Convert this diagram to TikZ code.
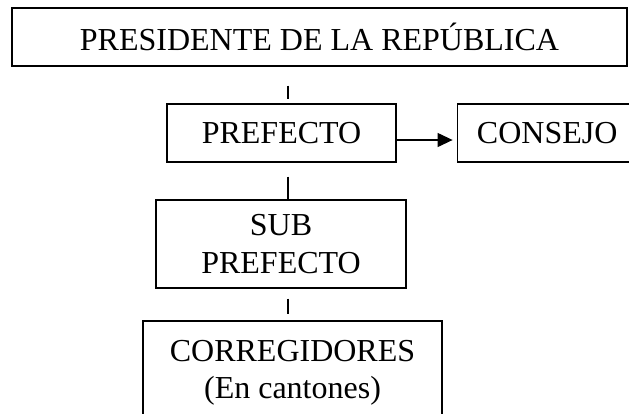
\documentclass[tikz,border=0pt]{standalone}
\usepackage{fontspec}
\setmainfont{Liberation Serif}
\usepackage{tikz}
\usetikzlibrary{positioning,calc,arrows.meta}

\begin{document}
\begin{tikzpicture}[x=1pt, y=-1pt, line width=1.2pt, node distance=60pt,
  box/.style={draw, rectangle, inner sep=0pt, align=center, font=\fontsize{32}{37.5}\selectfont}]
  \useasboundingbox (0,0) rectangle (629,413);
  \clip (0,0) rectangle (629,413);

  \node[box, minimum width=615pt, minimum height=58pt] (pres) at (319.5,37) {PRESIDENTE DE LA REPÚBLICA};
  \node[box, minimum width=229pt, minimum height=58pt] (pref) at (281.5,133) {PREFECTO};
  \node[box, minimum width=180pt, minimum height=58pt] (cons) [right=of pref] {CONSEJO};
  \node[box, minimum width=250pt, minimum height=88pt] (sub) at (281,244) {SUB\\PREFECTO};
  \node[box, minimum width=299pt, minimum height=104pt] (corr) at (292.5,373) {CORREGIDORES\\(En cantones)};

  \coordinate (axis) at (288,0);
  \draw[shorten <=19pt, shorten >=4pt] (pres.south -| axis) -- (pref.north -| axis);
  \draw[shorten <=14pt] (pref.south -| axis) -- (sub.north -| axis);
  \draw[shorten <=10pt, shorten >=6pt] (sub.south -| axis) -- (corr.north -| axis);
  \draw[-{Triangle[length=15pt,width=14pt]}, shorten >=4pt] ([yshift=-7pt]pref.east) -- ([yshift=-7pt]cons.west);
\end{tikzpicture}
\end{document}
